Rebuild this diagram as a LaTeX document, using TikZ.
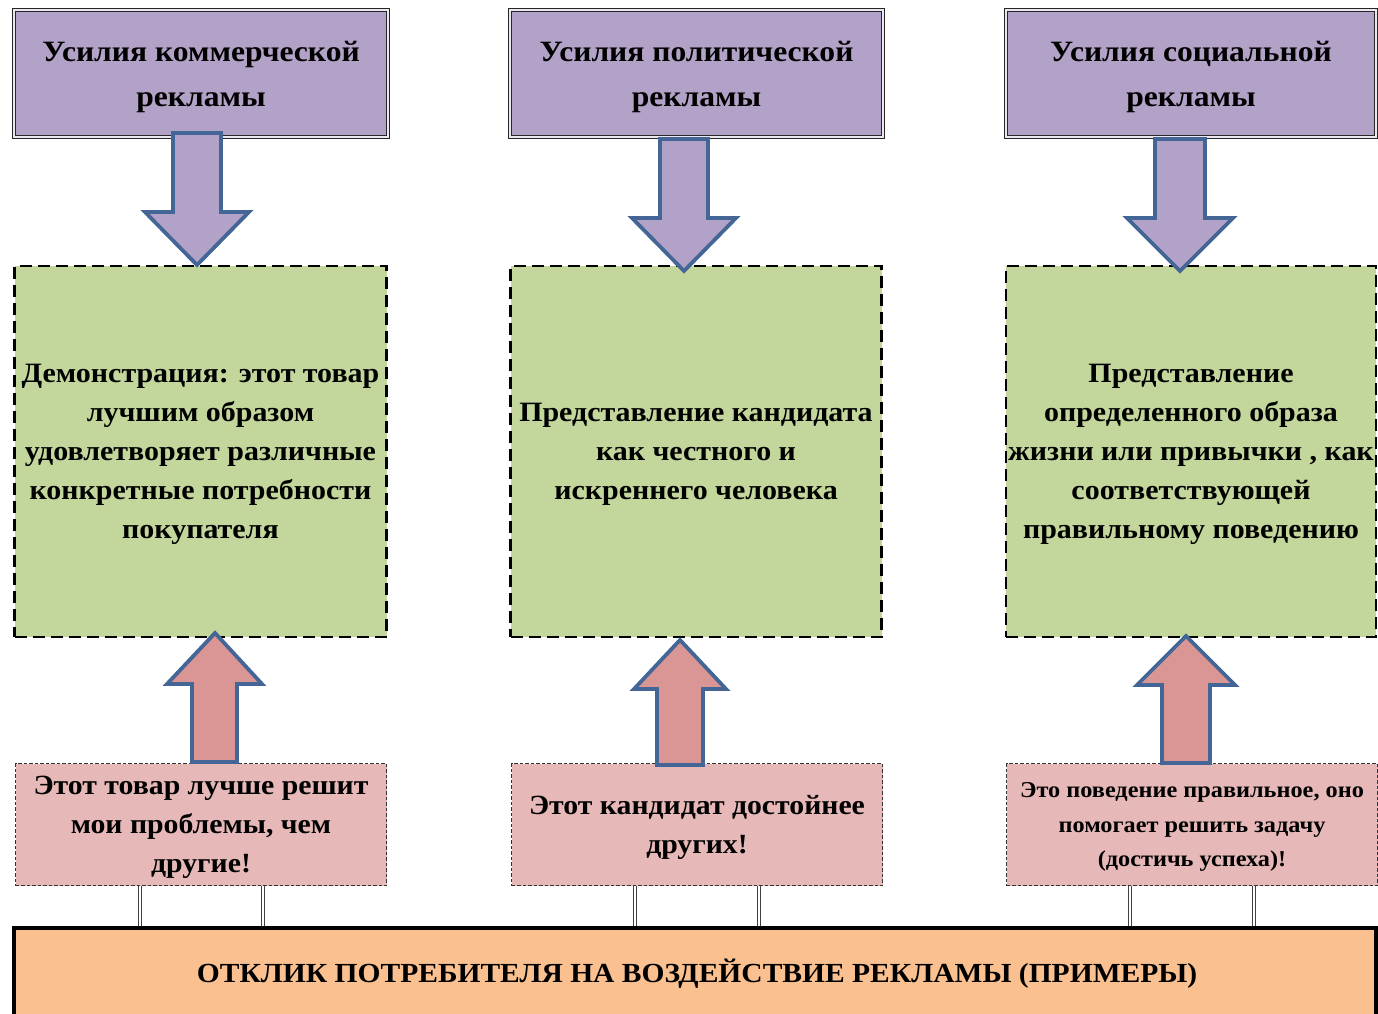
\documentclass[tikz,border=0pt]{standalone}
\usepackage{fontspec}
\setmainfont{Liberation Serif}
\newfontfamily\widefont[FakeStretch=1.07]{Liberation Serif}
\definecolor{purp}{HTML}{B3A2C7}
\definecolor{grn}{HTML}{C3D69B}
\definecolor{pnk}{HTML}{E6B9B8}
\definecolor{uparr}{HTML}{D99694}
\definecolor{orng}{HTML}{FAC090}
\definecolor{arrline}{RGB}{68,102,150}
\tikzset{
  topbox/.style={draw=black!85, fill=purp, double=white!75!purp, double distance=1.6pt, line width=1.3pt,
    minimum width=#1, minimum height=127pt, inner sep=0pt, align=center, text depth=0pt,
    font=\widefont\bfseries\fontsize{29.5}{45}\selectfont},
  midbox/.style={draw=black, fill=grn, line width=2.8pt, dash pattern=on 12pt off 6pt,
    minimum width=#1, minimum height=371pt, inner sep=0pt, align=center, text depth=0pt,
    font=\widefont\bfseries\fontsize{28}{39}\selectfont},
  lowbox/.style={draw=black!80, fill=pnk, line width=1.2pt, dash pattern=on 3.5pt off 2pt,
    minimum width=#1, minimum height=122pt, inner sep=0pt, align=center, text depth=0pt,
    font=\widefont\bfseries\fontsize{27.8}{39}\selectfont},
  barbox/.style={draw=black, fill=orng, line width=3.5pt, inner sep=0pt},
  downarrow/.style={draw=arrline, fill=purp, line width=3.8pt, line join=miter},
  uparrow/.style={draw=arrline, fill=uparr, line width=3.8pt, line join=miter},
  link/.style={draw=black!75, double=white, double distance=2.6pt, line width=0.9pt},
}
\begin{document}
\begin{tikzpicture}[x=1pt,y=-1pt]
\useasboundingbox (0,0) rectangle (1378,1014);

% bottom bar
\node[barbox, minimum width=1362pt, minimum height=90pt] (bar) at (695,973) {};
\node[font=\widefont\bfseries\fontsize{27.6}{30}\selectfont, inner sep=0pt] (bartext) at (697,973.5) {ОТКЛИК ПОТРЕБИТЕЛЯ НА ВОЗДЕЙСТВИЕ РЕКЛАМЫ (ПРИМЕРЫ)};

% top boxes
\node[topbox=374pt] (t1) at (201,73.5) {Усилия коммерческой\\ рекламы};
\node[topbox=373pt] (t2) at (696.5,73.5) {Усилия политической\\ рекламы};
\node[topbox=370pt] (t3) at (1191,73.5) {Усилия социальной\\ рекламы};

% middle boxes
\node[midbox=372pt] (m1) at (200.5,451.5) {Демонстрация: этот товар\\ лучшим образом\\ удовлетворяет различные\\ конкретные потребности\\ покупателя};
\node[midbox=371pt] (m2) at (696,451.5) {Представление кандидата\\ как честного и\\ искреннего человека};
\node[midbox=370pt] (m3) at (1191,451.5) {Представление\\ определенного образа\\ жизни или привычки , как\\ соответствующей\\ правильному поведению};

% lower boxes
\node[lowbox=371pt] (p1) at (201,824.5) {Этот товар лучше решит\\ мои проблемы, чем\\ другие!};
\node[lowbox=371pt] (p2) at (697,824.5) {Этот кандидат достойнее\\ других!};
\node[lowbox=371pt, font=\widefont\bfseries\fontsize{22.7}{34.5}\selectfont] (p3) at (1192,824.5) {Это поведение правильное, оно\\ помогает решить задачу\\ (достичь успеха)!};

% double links
\foreach \p/\xa/\xb in {p1/140/263, p2/635/759, p3/1130/1254}{
  \coordinate (\p a) at (\xa,886);
  \coordinate (\p b) at (\xb,886);
  \draw[link] (\p a) -- (\p a |- bar.north);
  \draw[link] (\p b) -- (\p b |- bar.north);
}

% down arrows
\draw[downarrow] (173,133) -- (173,212) -- (145,212) -- (197,265) -- (249,212) -- (221,212) -- (221,133) -- cycle;
\draw[downarrow] (660,139) -- (660,218) -- (632,218) -- (684,271) -- (736,218) -- (708,218) -- (708,139) -- cycle;
\draw[downarrow] (1155,139) -- (1155,218) -- (1127,218) -- (1180,271) -- (1233,218) -- (1205,218) -- (1205,139) -- cycle;

% up arrows
\draw[uparrow] (192,762) -- (192,684) -- (167,684) -- (215,633) -- (262,684) -- (237,684) -- (237,762) -- cycle;
\draw[uparrow] (657,765) -- (657,689) -- (634,689) -- (680,640) -- (726,689) -- (703,689) -- (703,765) -- cycle;
\draw[uparrow] (1162,763) -- (1162,685) -- (1137,685) -- (1186,636) -- (1235,685) -- (1210,685) -- (1210,763) -- cycle;
\end{tikzpicture}
\end{document}
